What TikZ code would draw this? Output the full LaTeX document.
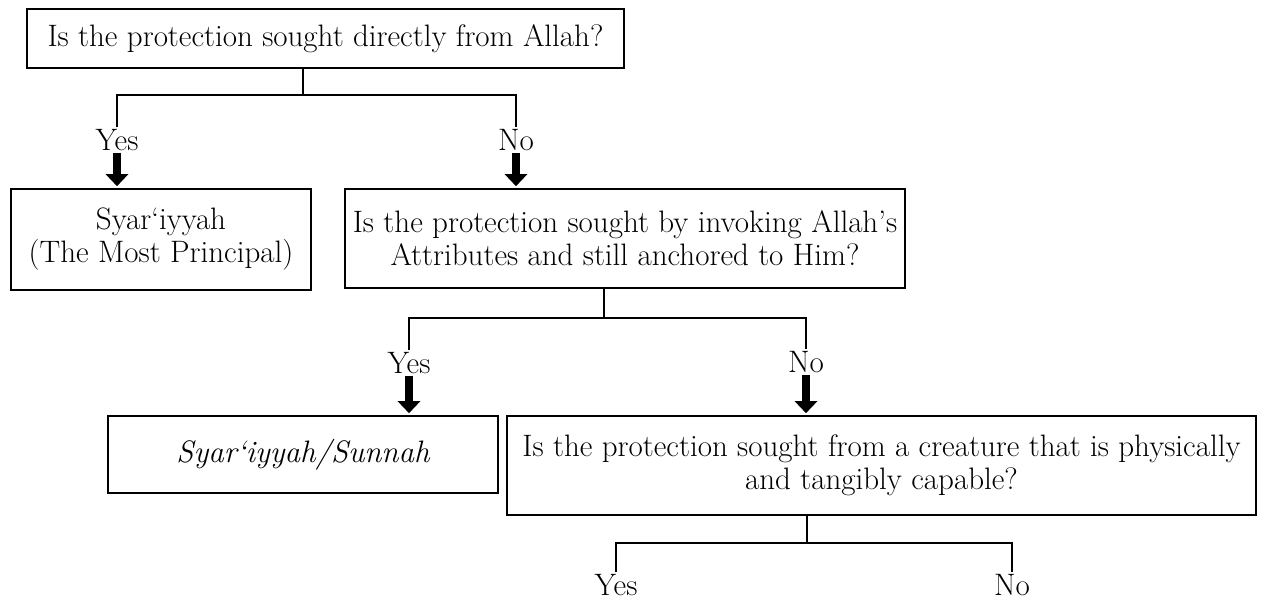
\documentclass[tikz,border=0pt]{standalone}
\usepackage{fontspec}
\usetikzlibrary{arrows.meta}
\begin{document}
\begin{tikzpicture}[x=1pt,y=-1pt,line width=1.2pt,
    box/.style={draw,line width=1.6pt,align=center,inner sep=0pt,font=\fontsize{31}{33}\selectfont},
    ans/.style={inner sep=2pt,text height=20pt,text depth=0pt,font=\fontsize{31}{33}\selectfont},
    bigarrow/.style={line width=8pt,-{Triangle[width=22pt,length=12pt]},shorten >=2pt}]
    \useasboundingbox (0,0) rectangle (1261,600);
    \node[box,minimum width=597pt,minimum height=59pt] (qA) at (325.5,38.5) {Is the protection sought directly from Allah?};
    \node[box,minimum width=300pt,minimum height=101pt] (res1) at (161,239.5) {Syar`iyyah\\(The Most Principal)};
    \node[box,minimum width=560pt,minimum height=99pt] (qB) at (625,238.5) {Is the protection sought by invoking Allah’s\\Attributes and still anchored to Him?};
    \node[box,minimum width=390pt,minimum height=77pt] (res2) at (303,454.5) {\itshape Syar`iyyah/Sunnah};
    \node[box,minimum width=749pt,minimum height=99pt] (qC) at (881.5,465.5) {Is the protection sought from a creature that is physically\\and tangibly capable?};
    \node[ans] (yA) at (117,140) {Yes};
    \node[ans] (nA) at (516,140) {No};
    \node[ans] (yB) at (409,363) {Yes};
    \node[ans] (nB) at (806,362) {No};
    \node[ans] (yC) at (616,585) {Yes};
    \node[ans] (nC) at (1012,585) {No};
    \coordinate (jA) at (303,95);
    \coordinate (jB) at (604,318);
    \coordinate (jC) at (807,543);
    \draw (qA.south -| jA) -- (jA);
    \draw (yA.north) |- (jA) -| (nA.north);
    \draw (qB.south -| jB) -- (jB);
    \draw (yB.north) |- (jB) -| (nB.north);
    \draw (qC.south -| jC) -- (jC);
    \draw (yC.north) |- (jC) -| (nC.north);
    \draw[bigarrow] (yA.south) -- (yA.south |- res1.north);
    \draw[bigarrow] (nA.south) -- (nA.south |- qB.north);
    \draw[bigarrow] (yB.south) -- (yB.south |- res2.north);
    \draw[bigarrow] (nB.south) -- (nB.south |- qC.north);
\end{tikzpicture}
\end{document}
